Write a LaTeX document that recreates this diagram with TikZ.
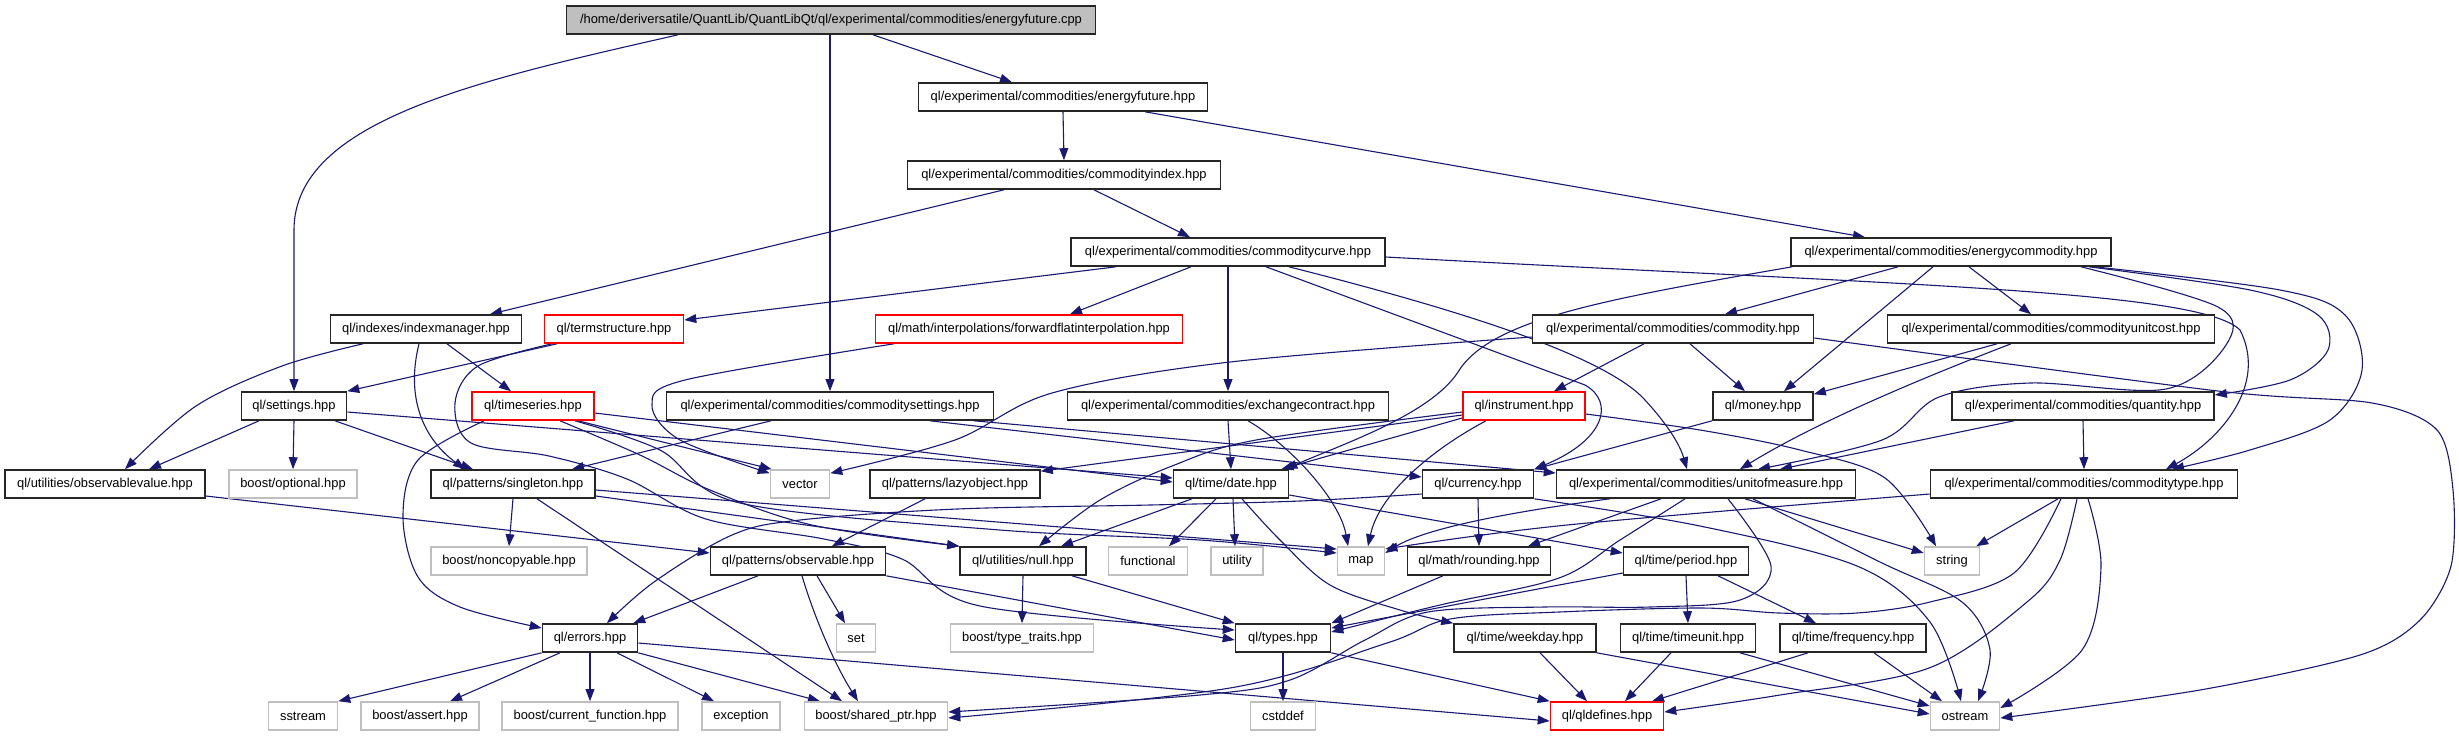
\documentclass[tikz,border=0pt]{standalone}
\usepackage{fontspec}
\setmainfont{Liberation Sans}
\usetikzlibrary{arrows.meta,backgrounds}
\definecolor{edgeblue}{HTML}{191970}
\definecolor{extgray}{HTML}{BFBFBF}
\definecolor{srcgray}{HTML}{BFBFBF}
\newcommand\gfs{\fontsize{6.45}{7.5}\selectfont}
\tikzset{
  nb/.style={draw=black!85,line width=0.8pt,rectangle,inner sep=0pt,minimum height=14pt,fill=white,font=\gfs},
  ext/.style={nb,draw=extgray},
  trunc/.style={nb,draw=red},
  srcbox/.style={nb,fill=srcgray},
  bw/.style={minimum width=#1*0.5pt},
  edg/.style={draw=edgeblue,line width=0.55pt,-{Triangle[length=6pt,width=4.4pt]}},
  sm/.style={smooth,tension=0.55},
}
\begin{document}
\begin{tikzpicture}[x=0.5pt,y=-0.5pt]
\useasboundingbox (0,0) rectangle (2459,736);
% nodes
\node[srcbox,bw=529] (cpp) at (831,20) {/home/deriversatile/QuantLib/QuantLibQt/ql/experimental/commodities/energyfuture.cpp};
\node[nb,bw=289] (efh) at (1063,97) {ql/experimental/commodities/energyfuture.hpp};
\node[nb,bw=313] (cidx) at (1064,175) {ql/experimental/commodities/commodityindex.hpp};
\node[nb,bw=314] (ccurve) at (1228,252) {ql/experimental/commodities/commoditycurve.hpp};
\node[nb,bw=320] (ecom) at (1951,252) {ql/experimental/commodities/energycommodity.hpp};
\node[nb,bw=191] (idxm) at (426,329) {ql/indexes/indexmanager.hpp};
\node[trunc,bw=139] (term) at (614,329) {ql/termstructure.hpp};
\node[trunc,bw=307] (ffi) at (1029,329) {ql/math/interpolations/forwardflatinterpolation.hpp};
\node[nb,bw=281] (comm) at (1673,329) {ql/experimental/commodities/commodity.hpp};
\node[nb,bw=327] (cuc) at (2051,329) {ql/experimental/commodities/commodityunitcost.hpp};
\node[nb,bw=105] (sett) at (294,406) {ql/settings.hpp};
\node[trunc,bw=122] (tser) at (533,406) {ql/timeseries.hpp};
\node[nb,bw=327] (csett) at (830,406) {ql/experimental/commodities/commoditysettings.hpp};
\node[nb,bw=321] (exch) at (1228,406) {ql/experimental/commodities/exchangecontract.hpp};
\node[trunc,bw=122] (instr) at (1524,406) {ql/instrument.hpp};
\node[nb,bw=100] (money) at (1763,406) {ql/money.hpp};
\node[nb,bw=262] (qty) at (2083,406) {ql/experimental/commodities/quantity.hpp};
\node[nb,bw=200] (obsv) at (105,484) {ql/utilities/observablevalue.hpp};
\node[ext,bw=128] (bopt) at (293,484) {boost/optional.hpp};
\node[nb,bw=164] (singl) at (513,484) {ql/patterns/singleton.hpp};
\node[ext,bw=59] (vector) at (800,484) {vector};
\node[nb,bw=170] (lazy) at (955,484) {ql/patterns/lazyobject.hpp};
\node[nb,bw=115] (date) at (1231,484) {ql/time/date.hpp};
\node[nb,bw=111] (currency) at (1478,484) {ql/currency.hpp};
\node[nb,bw=299] (uom) at (1706,484) {ql/experimental/commodities/unitofmeasure.hpp};
\node[nb,bw=307] (ctype) at (2084,484) {ql/experimental/commodities/commoditytype.hpp};
\node[ext,bw=156] (noncop) at (509,561) {boost/noncopyable.hpp};
\node[nb,bw=175] (observ) at (798,561) {ql/patterns/observable.hpp};
\node[nb,bw=126] (nullh) at (1023,561) {ql/utilities/null.hpp};
\node[ext,bw=79] (func) at (1148,561) {functional};
\node[ext,bw=52] (util) at (1237,561) {utility};
\node[ext,bw=47] (maph) at (1361,561) {map};
\node[nb,bw=143] (round) at (1479,561) {ql/math/rounding.hpp};
\node[nb,bw=125] (period) at (1686,561) {ql/time/period.hpp};
\node[ext,bw=55] (stringh) at (1952,561) {string};
\node[nb,bw=95] (errors) at (590,638) {ql/errors.hpp};
\node[ext,bw=39] (seth) at (856,638) {set};
\node[ext,bw=143] (ttraits) at (1022,638) {boost/type\_traits.hpp};
\node[nb,bw=95] (types) at (1283,638) {ql/types.hpp};
\node[nb,bw=142] (weekday) at (1525,638) {ql/time/weekday.hpp};
\node[nb,bw=135] (timeunit) at (1688,638) {ql/time/timeunit.hpp};
\node[nb,bw=146] (freq) at (1853,638) {ql/time/frequency.hpp};
\node[ext,bw=69] (sstream) at (303,716) {sstream};
\node[ext,bw=118] (bassert) at (420,716) {boost/assert.hpp};
\node[ext,bw=176] (bcf) at (590,716) {boost/current\_function.hpp};
\node[ext,bw=78] (exception) at (741,716) {exception};
\node[ext,bw=143] (sptr) at (876,716) {boost/shared\_ptr.hpp};
\node[ext,bw=65] (cstddef) at (1283,716) {cstddef};
\node[trunc,bw=113] (qldef) at (1607,716) {ql/qldefines.hpp};
\node[ext,bw=69] (ostream) at (1965,716) {ostream};
% edges
\begin{scope}[on background layer]
\fill[white] (0,0) rectangle (2459,736);
\draw[edg] ([xshift=-76.5pt]cpp.south) .. controls (480,80) and (294,120) .. (294,230) -- (sett.north);
\draw[edg] ([xshift=-0.5pt]cpp.south) -- (csett.north);
\draw[edg] ([xshift=21pt]cpp.south) -- ([xshift=-25.5pt]efh.north);
\draw[edg] (efh.south) -- (cidx.north);
\draw[edg] ([xshift=41pt]efh.south) -- ([xshift=-43pt]ecom.north);
\draw[edg] ([xshift=-30pt]cidx.south) -- ([xshift=32pt]idxm.north);
\draw[edg] ([xshift=15pt]cidx.south) -- ([xshift=-19pt]ccurve.north);
\draw[edg] ([xshift=-56pt]ccurve.south) -- ([yshift=4.5pt]term.east);
\draw[edg] ([xshift=-18.5pt]ccurve.south) -- ([xshift=20.5pt]ffi.north);
\draw[edg] (ccurve.south) -- (exch.north);
\draw[edg] ([xshift=19pt]ccurve.south) -- (1585,385) .. controls (1615,402) and (1605,440) .. (currency.north east);
\draw[edg] ([xshift=30.5pt]ccurve.south) .. controls (1420,300) and (1600,350) .. (1645,400) .. controls (1668,425) and (1680,445) .. ([xshift=-9.5pt]uom.north);
\draw[edg] ([yshift=-2.5pt]ccurve.east) .. controls (1900,285) and (2200,290) .. (2240,330) .. controls (2268,385) and (2220,440) .. ([xshift=41pt]ctype.north);
\draw[edg] ([xshift=1pt]ecom.south west) .. controls (1600,300) and (1490,320) .. (1458,372) .. controls (1430,415) and (1340,445) .. ([xshift=-2pt]date.north east);
\draw[edg] ([xshift=-26.5pt]ecom.south) -- ([xshift=26pt]comm.north);
\draw[edg] ([xshift=-9pt]ecom.south) -- ([xshift=10.5pt]money.north);
\draw[edg] ([xshift=9pt]ecom.south) -- ([xshift=-10pt]cuc.north);
\draw[edg] plot[sm] coordinates {([xshift=65pt]ecom.south) (2218,307) (2226,345) (2166,389) (2030,383) (1939,397) (1882,440) ([xshift=26pt]uom.north)};
\draw[edg] plot[sm] coordinates {([xshift=69pt]ecom.south) (2250,290) (2318,315) (2328,350) (2290,380) ([yshift=5.5pt]qty.east)};
\draw[edg] plot[sm] coordinates {([xshift=72pt]ecom.south) (2280,290) (2345,315) (2362,370) (2330,420) (2250,450) ([xshift=44pt]ctype.north)};
\draw[edg] plot[sm] coordinates {([xshift=-31.5pt]idxm.south) (282,366) (196,406) ([xshift=10pt]obsv.north)};
\draw[edg] ([xshift=-3.5pt]idxm.south) .. controls (405,400) and (425,440) .. ([xshift=-24pt]singl.north);
\draw[edg] ([xshift=10.5pt]idxm.south) -- ([xshift=-11pt]tser.north);
\draw[edg] ([xshift=-28.5pt]term.south) -- (sett.north east);
\draw[edg] plot[sm] coordinates {([xshift=-31pt]term.south) (478,366) (455,403) (471,443) (549,456) (627,479) (706,519) (824,539) (902,559) (980,606) ([yshift=4pt]types.west)};
\draw[edg] plot[sm] coordinates {([xshift=-67.5pt]ffi.south) (685,380) (652,405) (680,440) ([yshift=-2pt]vector.north west)};
\draw[edg] ([xshift=22.5pt]tser.south) -- ([xshift=1pt]vector.north west);
\draw[edg] plot[sm] coordinates {([xshift=-24.5pt]tser.south) (418,460) (403,517) (418,577) (460,607) ([yshift=5pt]errors.west)};
\draw[edg] ([yshift=-3.5pt]tser.east) -- ([yshift=1pt]date.west);
\draw[edg] plot[sm] coordinates {([xshift=13.5pt]tser.south) (640,455) (710,490) (812,525) (nullh.north west)};
\draw[edg] plot[sm] coordinates {([xshift=21pt]tser.south) (660,450) (740,503) (1000,530) (1200,540) ([yshift=4pt]maph.west)};
\draw[edg] ([xshift=-17.5pt]sett.south) -- ([xshift=22pt]obsv.north);
\draw[edg] (sett.south) -- (bopt.north);
\draw[edg] ([xshift=20.5pt]sett.south) -- ([xshift=-20pt]singl.north);
\draw[edg] ([yshift=-3pt]sett.east) -- ([yshift=3pt]date.west);
\draw[edg] ([xshift=-29.5pt]csett.south) -- ([xshift=29.5pt]singl.north);
\draw[edg] ([xshift=50pt]csett.south) -- ([yshift=3.5pt]currency.west);
\draw[edg] ([xshift=72pt]csett.south) -- ([yshift=5.5pt]uom.west);
\draw[edg] (exch.south) -- (date.north);
\draw[edg] ([xshift=10pt]exch.south) .. controls (1290,445) and (1340,500) .. ([xshift=-6.5pt]maph.north);
\draw[edg] ([yshift=-4.5pt]instr.west) -- ([yshift=-1pt]lazy.north east);
\draw[edg] ([yshift=-6pt]instr.west) -- ([xshift=-4pt]date.north east);
\draw[edg] plot[sm] coordinates {([yshift=-3pt]instr.west) (1256,440) (1172,466) (1100,500) ([xshift=8pt]nullh.north)};
\draw[edg] ([xshift=-19pt]instr.south) .. controls (1440,445) and (1380,490) .. ([xshift=3.5pt]maph.north);
\draw[edg] plot[sm] coordinates {([yshift=-4pt]instr.east) (1700,430) (1800,450) (1885,478) ([xshift=-8pt]stringh.north)};
\draw[edg] plot[sm] coordinates {([yshift=-4pt]comm.west) (1230,362) (1052,393) (955,440) ([yshift=-2pt]vector.north east)};
\draw[edg] ([xshift=-14.5pt]comm.south) -- ([xshift=15pt]instr.north);
\draw[edg] ([xshift=8.5pt]comm.south) -- ([xshift=-9pt]money.north);
\draw[edg] plot[smooth,tension=0.5] coordinates {([yshift=-4.5pt]comm.east) (2218,391) (2372,403) (2437,430) (2453,490) (2451,566) (2420,620) (2360,655) (2200,690) ([yshift=-1pt]ostream.east)};
\draw[edg] ([xshift=-27pt]cuc.south) -- ([yshift=-1.5pt]money.north east);
\draw[edg] ([xshift=-20pt]cuc.south) .. controls (1930,375) and (1820,420) .. ([xshift=17pt]uom.north);
\draw[edg] ([xshift=-25.5pt]money.south) -- (currency.north east);
\draw[edg] (qty.south) -- (ctype.north);
\draw[edg] ([xshift=-34.5pt]qty.south) -- ([xshift=37pt]uom.north);
\draw[edg] ([yshift=-6pt]obsv.east) -- ([yshift=4pt]observ.west);
\draw[edg] (singl.south) -- (noncop.north);
\draw[edg] ([xshift=12pt]singl.south) -- ([xshift=-17pt]sptr.north);
\draw[edg] ([yshift=-3pt]singl.east) -- ([yshift=6pt]maph.west);
\draw[edg] ([yshift=-6pt]singl.east) -- (nullh.north west);
\draw[edg] ([xshift=-15pt]lazy.south) -- ([xshift=17pt]observ.north);
\draw[edg] ([xshift=-19.5pt]date.south) -- ([xshift=19pt]nullh.north);
\draw[edg] ([xshift=-7.5pt]date.south) -- ([xshift=10.5pt]func.north);
\draw[edg] ([xshift=1pt]date.south) -- ([xshift=-1pt]util.north);
\draw[edg] ([yshift=-5.5pt]date.east) -- ([yshift=4pt]period.west);
\draw[edg] plot[sm] coordinates {([xshift=5.5pt]date.south) (1280,540) (1330,585) (1400,610) (weekday.north west)};
\draw[edg] plot[sm] coordinates {([yshift=-5pt]currency.west) (1300,501) (1150,505) (957,509) (800,520) (732,535) (654,582) ([xshift=8.5pt]errors.north)};
\draw[edg] (currency.south) -- (round.north);
\draw[edg] plot[sm] coordinates {(currency.south east) (1700,526) (1857,566) (1930,622) ([xshift=-2pt]ostream.north)};
\draw[edg] ([xshift=-48pt]uom.south) .. controls (1540,508) and (1430,525) .. ([yshift=4pt]maph.east);
\draw[edg] ([xshift=-22.5pt]uom.south) -- ([xshift=24.5pt]round.north);
\draw[edg] plot[sm] coordinates {([xshift=-10.5pt]uom.south) (1620,540) (1559,578) (1440,605) ([yshift=3pt]types.east)};
\draw[edg] plot[sm] coordinates {([xshift=11pt]uom.south) (1771,566) (1740,600) (1650,607) (1544,607) (1428,612) (1365,640) (1290,680) (1200,695) ([yshift=2pt]sptr.east)};
\draw[edg] ([xshift=19.5pt]uom.south) -- ([yshift=4pt]stringh.west);
\draw[edg] plot[sm] coordinates {([xshift=23.5pt]uom.south) (1880,562) (1962,602) (1990,650) ([xshift=6.5pt]ostream.north)};
\draw[edg] plot[sm] coordinates {([yshift=-5pt]ctype.west) (1567,525) ([yshift=6pt]maph.east)};
\draw[edg] ([xshift=-13pt]ctype.south) -- ([xshift=-2pt]stringh.north east);
\draw[edg] plot[sm] coordinates {([xshift=-11.5pt]ctype.south) (2014,573) (1930,602) (1857,613) (1779,613) (1701,608) (1559,612) (1450,619) (1387,643) (1230,688) ([yshift=-1pt]sptr.east)};
\draw[edg] plot[sm] coordinates {([xshift=-3.5pt]ctype.south) (2060,560) (2027,602) (1929,668) (1780,695) ([yshift=2pt]qldef.east)};
\draw[edg] plot[sm] coordinates {([xshift=2pt]ctype.south) (2101,567) (2082,650) ([yshift=4pt]ostream.east)};
\draw[edg] (errors.south west) -- (sstream.north east);
\draw[edg] ([xshift=-15pt]errors.south) -- ([xshift=15pt]bassert.north);
\draw[edg] (errors.south) -- (bcf.north);
\draw[edg] ([xshift=13.5pt]errors.south) -- ([xshift=-13.5pt]exception.north);
\draw[edg] (errors.south east) -- ([xshift=-28pt]sptr.north);
\draw[edg] ([yshift=-2.5pt]errors.east) -- ([yshift=-2.5pt]qldef.west);
\draw[edg] ([xshift=-20pt]observ.south) -- ([xshift=-2.5pt]errors.north east);
\draw[edg] ([xshift=9.5pt]observ.south) -- ([xshift=-5.5pt]seth.north);
\draw[edg] ([xshift=2pt]observ.south) .. controls (812,610) and (832,660) .. ([xshift=-9pt]sptr.north);
\draw[edg] (observ.south east) -- ([yshift=-1pt]types.west);
\draw[edg] (nullh.south) -- (ttraits.north);
\draw[edg] ([xshift=24.5pt]nullh.south) -- (types.north west);
\draw[edg] ([yshift=-6pt]period.west) -- ([yshift=5pt]types.east);
\draw[edg] (period.south) -- (timeunit.north);
\draw[edg] ([xshift=16pt]period.south) -- ([xshift=-18.5pt]freq.north);
\draw[edg] ([xshift=-18pt]round.south) -- (types.north east);
\draw[edg] (types.south) -- (cstddef.north);
\draw[edg] (types.south east) -- (qldef.north west);
\draw[edg] ([xshift=7.5pt]weekday.south) -- ([xshift=-10pt]qldef.north);
\draw[edg] (weekday.south east) -- ([yshift=1pt]ostream.west);
\draw[edg] ([xshift=-8.5pt]timeunit.south) -- ([xshift=9pt]qldef.north);
\draw[edg] ([xshift=26pt]timeunit.south) -- ([yshift=5pt]ostream.west);
\draw[edg] ([xshift=-22.5pt]freq.south) -- ([xshift=22.5pt]qldef.north);
\draw[edg] ([xshift=10.5pt]freq.south) -- ([xshift=-11.5pt]ostream.north);
\end{scope}
\end{tikzpicture}
\end{document}
